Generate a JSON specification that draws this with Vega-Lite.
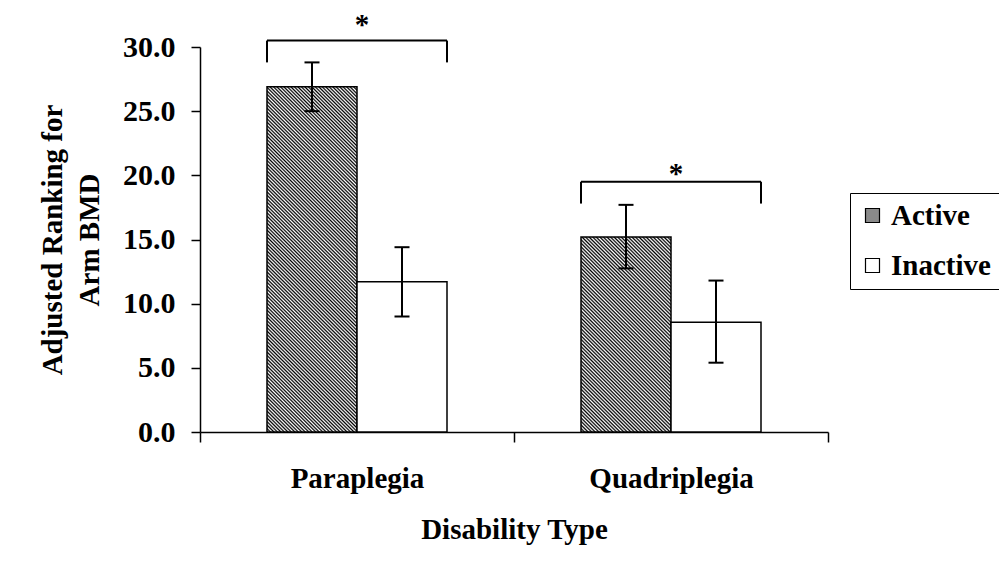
{
  "$schema": "https://vega.github.io/schema/vega-lite/v6.json",
  "width": 628,
  "height": 385,
  "autosize": {"type": "none"},
  "padding": {"left": 200, "top": 47, "right": 171, "bottom": 141},
  "background": "white",
  "config": {
    "view": {"stroke": null},
    "font": "Liberation Serif",
    "axis": {
      "labelFont": "Liberation Serif", "labelFontWeight": "bold", "labelColor": "black",
      "titleFont": "Liberation Serif", "titleFontWeight": "bold", "titleColor": "black",
      "domainColor": "black", "tickColor": "black", "grid": false, "domainWidth": 1.5, "tickWidth": 1.5
    }
  },
  "datasets": {
    "bars": [
      {"Type": "Paraplegia", "Group": "Active", "value": 26.9, "lo": 25.0, "hi": 28.8},
      {"Type": "Paraplegia", "Group": "Inactive", "value": 11.7, "lo": 9.0, "hi": 14.4},
      {"Type": "Quadriplegia", "Group": "Active", "value": 15.2, "lo": 12.75, "hi": 17.7},
      {"Type": "Quadriplegia", "Group": "Inactive", "value": 8.55, "lo": 5.4, "hi": 11.8}
    ],
    "brackets": [
      {"Type": "Paraplegia", "top": 30.5, "leg": 28.8, "star": 31.0, "mark": "*"},
      {"Type": "Quadriplegia", "top": 19.5, "leg": 17.8, "star": 19.4, "mark": "*"}
    ]
  },
  "data": {"name": "bars"},
  "encoding": {
    "x": {
      "field": "Type", "type": "nominal", "title": "Disability Type",
      "scale": {"domain": ["Paraplegia", "Quadriplegia"], "paddingInner": 0, "paddingOuter": 0},
      "axis": {
        "labelAngle": 0, "tickBand": "extent", "tickSize": 10, "labelFontSize": 29, "labelPadding": 22,
        "titleFontSize": 29, "titlePadding": 22
      }
    }
  },
  "layer": [
    {
      "mark": {"type": "bar", "strokeWidth": 1.5},
      "encoding": {
        "xOffset": {"field": "Group", "type": "nominal", "scale": {"domain": ["Active", "Inactive"], "paddingInner": 0, "paddingOuter": 0.7444}},
        "y": {
          "field": "value", "type": "quantitative",
          "scale": {"domain": [0, 30], "nice": false},
          "axis": {
            "title": ["Adjusted Ranking for", "Arm BMD"], "values": [0, 5, 10, 15, 20, 25, 30], "format": ".1f",
            "tickSize": 9, "labelFontSize": 30, "labelPadding": 16, "titleFontSize": 29, "titleLineHeight": 37, "titlePadding": 18
          }
        },
        "stroke": {
          "field": "Group", "type": "nominal",
          "scale": {"domain": ["Active", "Inactive"], "range": ["#000000", "#000000"]},
          "legend": null
        },
        "fill": {
          "field": "Group", "type": "nominal",
          "scale": {"domain": ["Active", "Inactive"], "range": ["#8a8a8a", "#ffffff"]},
          "legend": {
            "orient": "none", "legendX": 650, "legendY": 146, "title": null,
            "symbolType": "square", "symbolSize": 196, "symbolStrokeColor": "black", "symbolStrokeWidth": 1.2,
            "labelFont": "Liberation Serif", "labelFontSize": 29, "labelFontWeight": "bold", "labelColor": "black",
            "labelOffset": 4, "rowPadding": 20, "padding": 8, "strokeColor": "black", "fillColor": "white"
          },
          "condition": [
            {"test": "datum.Type === 'Paraplegia' && datum.Group === 'Active'", "value": {"gradient": "linear", "x1": 0, "y1": 1, "x2": 0.3078, "y2": -0.1805, "stops": [
{"offset":0,"color":"#000"},{"offset":0.004,"color":"#fff"},{"offset":0.008,"color":"#000"},{"offset":0.012,"color":"#fff"},{"offset":0.016,"color":"#000"},{"offset":0.02,"color":"#fff"},{"offset":0.024,"color":"#000"},{"offset":0.028,"color":"#fff"},{"offset":0.032,"color":"#000"},{"offset":0.036,"color":"#fff"},{"offset":0.04,"color":"#000"},{"offset":0.044,"color":"#fff"},{"offset":0.048,"color":"#000"},{"offset":0.052,"color":"#fff"},{"offset":0.056,"color":"#000"},{"offset":0.06,"color":"#fff"},{"offset":0.064,"color":"#000"},{"offset":0.068,"color":"#fff"},{"offset":0.072,"color":"#000"},{"offset":0.076,"color":"#fff"},{"offset":0.08,"color":"#000"},{"offset":0.084,"color":"#fff"},{"offset":0.088,"color":"#000"},{"offset":0.092,"color":"#fff"},{"offset":0.096,"color":"#000"},{"offset":0.1,"color":"#fff"},{"offset":0.104,"color":"#000"},{"offset":0.108,"color":"#fff"},{"offset":0.112,"color":"#000"},{"offset":0.116,"color":"#fff"},{"offset":0.12,"color":"#000"},{"offset":0.124,"color":"#fff"},{"offset":0.128,"color":"#000"},{"offset":0.132,"color":"#fff"},{"offset":0.136,"color":"#000"},{"offset":0.14,"color":"#fff"},{"offset":0.144,"color":"#000"},{"offset":0.148,"color":"#fff"},{"offset":0.152,"color":"#000"},{"offset":0.156,"color":"#fff"},{"offset":0.16,"color":"#000"},{"offset":0.164,"color":"#fff"},{"offset":0.168,"color":"#000"},{"offset":0.172,"color":"#fff"},{"offset":0.176,"color":"#000"},{"offset":0.18,"color":"#fff"},{"offset":0.184,"color":"#000"},{"offset":0.188,"color":"#fff"},{"offset":0.192,"color":"#000"},{"offset":0.196,"color":"#fff"},
{"offset":0.2,"color":"#000"},{"offset":0.204,"color":"#fff"},{"offset":0.208,"color":"#000"},{"offset":0.212,"color":"#fff"},{"offset":0.216,"color":"#000"},{"offset":0.22,"color":"#fff"},{"offset":0.224,"color":"#000"},{"offset":0.228,"color":"#fff"},{"offset":0.232,"color":"#000"},{"offset":0.236,"color":"#fff"},{"offset":0.24,"color":"#000"},{"offset":0.244,"color":"#fff"},{"offset":0.248,"color":"#000"},{"offset":0.252,"color":"#fff"},{"offset":0.256,"color":"#000"},{"offset":0.26,"color":"#fff"},{"offset":0.264,"color":"#000"},{"offset":0.268,"color":"#fff"},{"offset":0.272,"color":"#000"},{"offset":0.276,"color":"#fff"},{"offset":0.28,"color":"#000"},{"offset":0.284,"color":"#fff"},{"offset":0.288,"color":"#000"},{"offset":0.292,"color":"#fff"},{"offset":0.296,"color":"#000"},{"offset":0.3,"color":"#fff"},{"offset":0.304,"color":"#000"},{"offset":0.308,"color":"#fff"},{"offset":0.312,"color":"#000"},{"offset":0.316,"color":"#fff"},{"offset":0.32,"color":"#000"},{"offset":0.324,"color":"#fff"},{"offset":0.328,"color":"#000"},{"offset":0.332,"color":"#fff"},{"offset":0.336,"color":"#000"},{"offset":0.34,"color":"#fff"},{"offset":0.344,"color":"#000"},{"offset":0.348,"color":"#fff"},{"offset":0.352,"color":"#000"},{"offset":0.356,"color":"#fff"},{"offset":0.36,"color":"#000"},{"offset":0.364,"color":"#fff"},{"offset":0.368,"color":"#000"},{"offset":0.372,"color":"#fff"},{"offset":0.376,"color":"#000"},{"offset":0.38,"color":"#fff"},{"offset":0.384,"color":"#000"},{"offset":0.388,"color":"#fff"},{"offset":0.392,"color":"#000"},{"offset":0.396,"color":"#fff"},
{"offset":0.4,"color":"#000"},{"offset":0.404,"color":"#fff"},{"offset":0.408,"color":"#000"},{"offset":0.412,"color":"#fff"},{"offset":0.416,"color":"#000"},{"offset":0.42,"color":"#fff"},{"offset":0.424,"color":"#000"},{"offset":0.428,"color":"#fff"},{"offset":0.432,"color":"#000"},{"offset":0.436,"color":"#fff"},{"offset":0.44,"color":"#000"},{"offset":0.444,"color":"#fff"},{"offset":0.448,"color":"#000"},{"offset":0.452,"color":"#fff"},{"offset":0.456,"color":"#000"},{"offset":0.46,"color":"#fff"},{"offset":0.464,"color":"#000"},{"offset":0.468,"color":"#fff"},{"offset":0.472,"color":"#000"},{"offset":0.476,"color":"#fff"},{"offset":0.48,"color":"#000"},{"offset":0.484,"color":"#fff"},{"offset":0.488,"color":"#000"},{"offset":0.492,"color":"#fff"},{"offset":0.496,"color":"#000"},{"offset":0.5,"color":"#fff"},{"offset":0.504,"color":"#000"},{"offset":0.508,"color":"#fff"},{"offset":0.512,"color":"#000"},{"offset":0.516,"color":"#fff"},{"offset":0.52,"color":"#000"},{"offset":0.524,"color":"#fff"},{"offset":0.528,"color":"#000"},{"offset":0.532,"color":"#fff"},{"offset":0.536,"color":"#000"},{"offset":0.54,"color":"#fff"},{"offset":0.544,"color":"#000"},{"offset":0.548,"color":"#fff"},{"offset":0.552,"color":"#000"},{"offset":0.556,"color":"#fff"},{"offset":0.56,"color":"#000"},{"offset":0.564,"color":"#fff"},{"offset":0.568,"color":"#000"},{"offset":0.572,"color":"#fff"},{"offset":0.576,"color":"#000"},{"offset":0.58,"color":"#fff"},{"offset":0.584,"color":"#000"},{"offset":0.588,"color":"#fff"},{"offset":0.592,"color":"#000"},{"offset":0.596,"color":"#fff"},
{"offset":0.6,"color":"#000"},{"offset":0.604,"color":"#fff"},{"offset":0.608,"color":"#000"},{"offset":0.612,"color":"#fff"},{"offset":0.616,"color":"#000"},{"offset":0.62,"color":"#fff"},{"offset":0.624,"color":"#000"},{"offset":0.628,"color":"#fff"},{"offset":0.632,"color":"#000"},{"offset":0.636,"color":"#fff"},{"offset":0.64,"color":"#000"},{"offset":0.644,"color":"#fff"},{"offset":0.648,"color":"#000"},{"offset":0.652,"color":"#fff"},{"offset":0.656,"color":"#000"},{"offset":0.66,"color":"#fff"},{"offset":0.664,"color":"#000"},{"offset":0.668,"color":"#fff"},{"offset":0.672,"color":"#000"},{"offset":0.676,"color":"#fff"},{"offset":0.68,"color":"#000"},{"offset":0.684,"color":"#fff"},{"offset":0.688,"color":"#000"},{"offset":0.692,"color":"#fff"},{"offset":0.696,"color":"#000"},{"offset":0.7,"color":"#fff"},{"offset":0.704,"color":"#000"},{"offset":0.708,"color":"#fff"},{"offset":0.712,"color":"#000"},{"offset":0.716,"color":"#fff"},{"offset":0.72,"color":"#000"},{"offset":0.724,"color":"#fff"},{"offset":0.728,"color":"#000"},{"offset":0.732,"color":"#fff"},{"offset":0.736,"color":"#000"},{"offset":0.74,"color":"#fff"},{"offset":0.744,"color":"#000"},{"offset":0.748,"color":"#fff"},{"offset":0.752,"color":"#000"},{"offset":0.756,"color":"#fff"},{"offset":0.76,"color":"#000"},{"offset":0.764,"color":"#fff"},{"offset":0.768,"color":"#000"},{"offset":0.772,"color":"#fff"},{"offset":0.776,"color":"#000"},{"offset":0.78,"color":"#fff"},{"offset":0.784,"color":"#000"},{"offset":0.788,"color":"#fff"},{"offset":0.792,"color":"#000"},{"offset":0.796,"color":"#fff"},
{"offset":0.8,"color":"#000"},{"offset":0.804,"color":"#fff"},{"offset":0.808,"color":"#000"},{"offset":0.812,"color":"#fff"},{"offset":0.816,"color":"#000"},{"offset":0.82,"color":"#fff"},{"offset":0.824,"color":"#000"},{"offset":0.828,"color":"#fff"},{"offset":0.832,"color":"#000"},{"offset":0.836,"color":"#fff"},{"offset":0.84,"color":"#000"},{"offset":0.844,"color":"#fff"},{"offset":0.848,"color":"#000"},{"offset":0.852,"color":"#fff"},{"offset":0.856,"color":"#000"},{"offset":0.86,"color":"#fff"},{"offset":0.864,"color":"#000"},{"offset":0.868,"color":"#fff"},{"offset":0.872,"color":"#000"},{"offset":0.876,"color":"#fff"},{"offset":0.88,"color":"#000"},{"offset":0.884,"color":"#fff"},{"offset":0.888,"color":"#000"},{"offset":0.892,"color":"#fff"},{"offset":0.896,"color":"#000"},{"offset":0.9,"color":"#fff"},{"offset":0.904,"color":"#000"},{"offset":0.908,"color":"#fff"},{"offset":0.912,"color":"#000"},{"offset":0.916,"color":"#fff"},{"offset":0.92,"color":"#000"},{"offset":0.924,"color":"#fff"},{"offset":0.928,"color":"#000"},{"offset":0.932,"color":"#fff"},{"offset":0.936,"color":"#000"},{"offset":0.94,"color":"#fff"},{"offset":0.944,"color":"#000"},{"offset":0.948,"color":"#fff"},{"offset":0.952,"color":"#000"},{"offset":0.956,"color":"#fff"},{"offset":0.96,"color":"#000"},{"offset":0.964,"color":"#fff"},{"offset":0.968,"color":"#000"},{"offset":0.972,"color":"#fff"},{"offset":0.976,"color":"#000"},{"offset":0.98,"color":"#fff"},{"offset":0.984,"color":"#000"},{"offset":0.988,"color":"#fff"},{"offset":0.992,"color":"#000"},{"offset":0.996,"color":"#fff"},{"offset":1,"color":"#000"}
            ]}},
            {"test": "datum.Type === 'Quadriplegia' && datum.Group === 'Active'", "value": {"gradient": "linear", "x1": 0, "y1": 1, "x2": 0.5558, "y2": -0.2049, "stops": [
{"offset":0,"color":"#000"},{"offset":0.00625,"color":"#fff"},{"offset":0.0125,"color":"#000"},{"offset":0.01875,"color":"#fff"},{"offset":0.025,"color":"#000"},{"offset":0.03125,"color":"#fff"},{"offset":0.0375,"color":"#000"},{"offset":0.04375,"color":"#fff"},{"offset":0.05,"color":"#000"},{"offset":0.05625,"color":"#fff"},{"offset":0.0625,"color":"#000"},{"offset":0.06875,"color":"#fff"},{"offset":0.075,"color":"#000"},{"offset":0.08125,"color":"#fff"},{"offset":0.0875,"color":"#000"},{"offset":0.09375,"color":"#fff"},
{"offset":0.1,"color":"#000"},{"offset":0.10625,"color":"#fff"},{"offset":0.1125,"color":"#000"},{"offset":0.11875,"color":"#fff"},{"offset":0.125,"color":"#000"},{"offset":0.13125,"color":"#fff"},{"offset":0.1375,"color":"#000"},{"offset":0.14375,"color":"#fff"},{"offset":0.15,"color":"#000"},{"offset":0.15625,"color":"#fff"},{"offset":0.1625,"color":"#000"},{"offset":0.16875,"color":"#fff"},{"offset":0.175,"color":"#000"},{"offset":0.18125,"color":"#fff"},{"offset":0.1875,"color":"#000"},{"offset":0.19375,"color":"#fff"},
{"offset":0.2,"color":"#000"},{"offset":0.20625,"color":"#fff"},{"offset":0.2125,"color":"#000"},{"offset":0.21875,"color":"#fff"},{"offset":0.225,"color":"#000"},{"offset":0.23125,"color":"#fff"},{"offset":0.2375,"color":"#000"},{"offset":0.24375,"color":"#fff"},{"offset":0.25,"color":"#000"},{"offset":0.25625,"color":"#fff"},{"offset":0.2625,"color":"#000"},{"offset":0.26875,"color":"#fff"},{"offset":0.275,"color":"#000"},{"offset":0.28125,"color":"#fff"},{"offset":0.2875,"color":"#000"},{"offset":0.29375,"color":"#fff"},
{"offset":0.3,"color":"#000"},{"offset":0.30625,"color":"#fff"},{"offset":0.3125,"color":"#000"},{"offset":0.31875,"color":"#fff"},{"offset":0.325,"color":"#000"},{"offset":0.33125,"color":"#fff"},{"offset":0.3375,"color":"#000"},{"offset":0.34375,"color":"#fff"},{"offset":0.35,"color":"#000"},{"offset":0.35625,"color":"#fff"},{"offset":0.3625,"color":"#000"},{"offset":0.36875,"color":"#fff"},{"offset":0.375,"color":"#000"},{"offset":0.38125,"color":"#fff"},{"offset":0.3875,"color":"#000"},{"offset":0.39375,"color":"#fff"},
{"offset":0.4,"color":"#000"},{"offset":0.40625,"color":"#fff"},{"offset":0.4125,"color":"#000"},{"offset":0.41875,"color":"#fff"},{"offset":0.425,"color":"#000"},{"offset":0.43125,"color":"#fff"},{"offset":0.4375,"color":"#000"},{"offset":0.44375,"color":"#fff"},{"offset":0.45,"color":"#000"},{"offset":0.45625,"color":"#fff"},{"offset":0.4625,"color":"#000"},{"offset":0.46875,"color":"#fff"},{"offset":0.475,"color":"#000"},{"offset":0.48125,"color":"#fff"},{"offset":0.4875,"color":"#000"},{"offset":0.49375,"color":"#fff"},
{"offset":0.5,"color":"#000"},{"offset":0.50625,"color":"#fff"},{"offset":0.5125,"color":"#000"},{"offset":0.51875,"color":"#fff"},{"offset":0.525,"color":"#000"},{"offset":0.53125,"color":"#fff"},{"offset":0.5375,"color":"#000"},{"offset":0.54375,"color":"#fff"},{"offset":0.55,"color":"#000"},{"offset":0.55625,"color":"#fff"},{"offset":0.5625,"color":"#000"},{"offset":0.56875,"color":"#fff"},{"offset":0.575,"color":"#000"},{"offset":0.58125,"color":"#fff"},{"offset":0.5875,"color":"#000"},{"offset":0.59375,"color":"#fff"},
{"offset":0.6,"color":"#000"},{"offset":0.60625,"color":"#fff"},{"offset":0.6125,"color":"#000"},{"offset":0.61875,"color":"#fff"},{"offset":0.625,"color":"#000"},{"offset":0.63125,"color":"#fff"},{"offset":0.6375,"color":"#000"},{"offset":0.64375,"color":"#fff"},{"offset":0.65,"color":"#000"},{"offset":0.65625,"color":"#fff"},{"offset":0.6625,"color":"#000"},{"offset":0.66875,"color":"#fff"},{"offset":0.675,"color":"#000"},{"offset":0.68125,"color":"#fff"},{"offset":0.6875,"color":"#000"},{"offset":0.69375,"color":"#fff"},
{"offset":0.7,"color":"#000"},{"offset":0.70625,"color":"#fff"},{"offset":0.7125,"color":"#000"},{"offset":0.71875,"color":"#fff"},{"offset":0.725,"color":"#000"},{"offset":0.73125,"color":"#fff"},{"offset":0.7375,"color":"#000"},{"offset":0.74375,"color":"#fff"},{"offset":0.75,"color":"#000"},{"offset":0.75625,"color":"#fff"},{"offset":0.7625,"color":"#000"},{"offset":0.76875,"color":"#fff"},{"offset":0.775,"color":"#000"},{"offset":0.78125,"color":"#fff"},{"offset":0.7875,"color":"#000"},{"offset":0.79375,"color":"#fff"},
{"offset":0.8,"color":"#000"},{"offset":0.80625,"color":"#fff"},{"offset":0.8125,"color":"#000"},{"offset":0.81875,"color":"#fff"},{"offset":0.825,"color":"#000"},{"offset":0.83125,"color":"#fff"},{"offset":0.8375,"color":"#000"},{"offset":0.84375,"color":"#fff"},{"offset":0.85,"color":"#000"},{"offset":0.85625,"color":"#fff"},{"offset":0.8625,"color":"#000"},{"offset":0.86875,"color":"#fff"},{"offset":0.875,"color":"#000"},{"offset":0.88125,"color":"#fff"},{"offset":0.8875,"color":"#000"},{"offset":0.89375,"color":"#fff"},
{"offset":0.9,"color":"#000"},{"offset":0.90625,"color":"#fff"},{"offset":0.9125,"color":"#000"},{"offset":0.91875,"color":"#fff"},{"offset":0.925,"color":"#000"},{"offset":0.93125,"color":"#fff"},{"offset":0.9375,"color":"#000"},{"offset":0.94375,"color":"#fff"},{"offset":0.95,"color":"#000"},{"offset":0.95625,"color":"#fff"},{"offset":0.9625,"color":"#000"},{"offset":0.96875,"color":"#fff"},{"offset":0.975,"color":"#000"},{"offset":0.98125,"color":"#fff"},{"offset":0.9875,"color":"#000"},{"offset":0.99375,"color":"#fff"},{"offset":1,"color":"#000"}
            ]}}
          ]
        }
      }
    },
    {
      "mark": {"type": "rule", "color": "black", "strokeWidth": 2},
      "encoding": {
        "xOffset": {"field": "Group", "type": "nominal"},
        "y": {"field": "lo", "type": "quantitative"},
        "y2": {"field": "hi"}
      }
    },
    {
      "mark": {"type": "tick", "orient": "horizontal", "size": 15, "thickness": 2, "color": "black", "opacity": 1},
      "encoding": {
        "xOffset": {"field": "Group", "type": "nominal"},
        "y": {"field": "lo", "type": "quantitative"}
      }
    },
    {
      "mark": {"type": "tick", "orient": "horizontal", "size": 15, "thickness": 2, "color": "black", "opacity": 1},
      "encoding": {
        "xOffset": {"field": "Group", "type": "nominal"},
        "y": {"field": "hi", "type": "quantitative"}
      }
    },
    {
      "data": {"name": "brackets"},
      "mark": {"type": "tick", "orient": "horizontal", "size": 180, "thickness": 2, "color": "black", "opacity": 1},
      "encoding": {
        "y": {"field": "top", "type": "quantitative"}
      }
    },
    {
      "data": {"name": "brackets"},
      "mark": {"type": "rule", "color": "black", "strokeWidth": 2},
      "encoding": {
        "x": {"field": "Type", "type": "nominal", "bandPosition": 0.2134, "title": "Disability Type"},
        "y": {"field": "top", "type": "quantitative"},
        "y2": {"field": "leg"}
      }
    },
    {
      "data": {"name": "brackets"},
      "mark": {"type": "rule", "color": "black", "strokeWidth": 2},
      "encoding": {
        "x": {"field": "Type", "type": "nominal", "bandPosition": 0.7866, "title": "Disability Type"},
        "y": {"field": "top", "type": "quantitative"},
        "y2": {"field": "leg"}
      }
    },
    {
      "data": {"name": "brackets"},
      "mark": {"type": "text", "font": "Liberation Serif", "fontSize": 29, "fontWeight": "bold", "baseline": "alphabetic", "dx": 5, "color": "black"},
      "encoding": {
        "y": {"field": "star", "type": "quantitative"},
        "text": {"field": "mark"}
      }
    }
  ]
}
